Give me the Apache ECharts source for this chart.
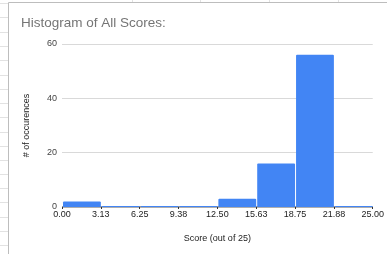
<!DOCTYPE html>
<html>
<head>
<meta charset="utf-8">
<script src="https://cdn.jsdelivr.net/npm/echarts@6/dist/echarts.min.js"></script>
<style>
html,body{margin:0;padding:0;background:#fff;}
#chart{width:387px;height:254px;}
</style>
</head>
<body>
<div id="chart"></div>
<script>
// histogram bins (score out of 25) and counts
var binEdges = [0, 3.125, 6.25, 9.375, 12.5, 15.625, 18.75, 21.875, 25];
var counts = [2, 0, 0, 0, 3, 16, 56, 0];
var yTicks = [0, 20, 40, 60];

var binData = counts.map(function (c, i) {
    return [binEdges[i], binEdges[i + 1], c];
});

// spreadsheet grid behind the chart
var sheetLines = [];
[3, 17, 32, 46, 60, 75, 89, 103, 117, 132, 146, 160, 174, 188, 202, 217, 231, 245].forEach(function (y) {
    sheetLines.push({type: 'line', shape: {x1: 0, y1: y + 0.5, x2: 8, y2: y + 0.5}, style: {stroke: '#e2e2e2', lineWidth: 1}, z: -1});
});
[132, 200, 269, 338].forEach(function (x) {
    sheetLines.push({type: 'line', shape: {x1: x + 0.5, y1: 0, x2: x + 0.5, y2: 2}, style: {stroke: '#e2e2e2', lineWidth: 1}, z: -1});
});
sheetLines.push({type: 'line', shape: {x1: 8.5, y1: 2.5, x2: 8.5, y2: 254}, style: {stroke: '#bdbdbd', lineWidth: 1}});
sheetLines.push({type: 'line', shape: {x1: 8.5, y1: 2.5, x2: 387, y2: 2.5}, style: {stroke: '#bdbdbd', lineWidth: 1}});

var myChart = echarts.init(document.getElementById('chart'));
var option = {
    animation: false,
    textStyle: {fontFamily: 'Liberation Sans, Arial, sans-serif'},
    title: {
        text: 'Histogram of All Scores:',
        left: 21,
        top: 16,
        padding: 0,
        textStyle: {color: '#757575', fontWeight: 'normal', fontSize: 13.5}
    },
    graphic: sheetLines,
    grid: {left: 62, right: 10, top: 44, bottom: 47},
    xAxis: {
        type: 'value',
        min: 0,
        max: 25,
        interval: 3.125,
        name: 'Score (out of 25)',
        nameLocation: 'middle',
        nameGap: 27,
        nameTextStyle: {color: '#222', fontSize: 9},
        axisLine: {show: false},
        axisTick: {show: true, length: 2, lineStyle: {color: '#333'}},
        splitLine: {show: false},
        axisLabel: {
            color: '#222',
            fontSize: 9,
            margin: 3,
            formatter: function (v) { return v.toFixed(2); }
        }
    },
    yAxis: {
        type: 'value',
        min: yTicks[0],
        max: yTicks[yTicks.length - 1],
        interval: 20,
        name: '# of occurences',
        nameLocation: 'middle',
        nameGap: 31,
        nameTextStyle: {color: '#222', fontSize: 9},
        axisLine: {show: false},
        axisTick: {show: false},
        axisLabel: {color: '#444', fontSize: 9, margin: 5},
        splitLine: {lineStyle: {color: '#d9d9d9', width: 1}}
    },
    series: [{
        type: 'custom',
        data: binData,
        encode: {x: [0, 1], y: 2},
        renderItem: function (params, api) {
            var p0 = api.coord([api.value(0), api.value(2)]);
            var p1 = api.coord([api.value(1), 0]);
            var h = Math.max(p1[1] - p0[1], 1);
            return {
                type: 'rect',
                shape: {x: p0[0] + 1, y: p1[1] - h, width: p1[0] - p0[0] - 1, height: h, r: [1, 1, 0, 0]},
                style: {fill: '#4285f4'}
            };
        }
    }, {
        // baseline at zero
        type: 'line',
        data: [[0, 0], [25, 0]],
        symbol: 'none',
        silent: true,
        lineStyle: {color: '#333', width: 1},
        z: 1
    }]
};
myChart.setOption(option);
</script>
</body>
</html>
